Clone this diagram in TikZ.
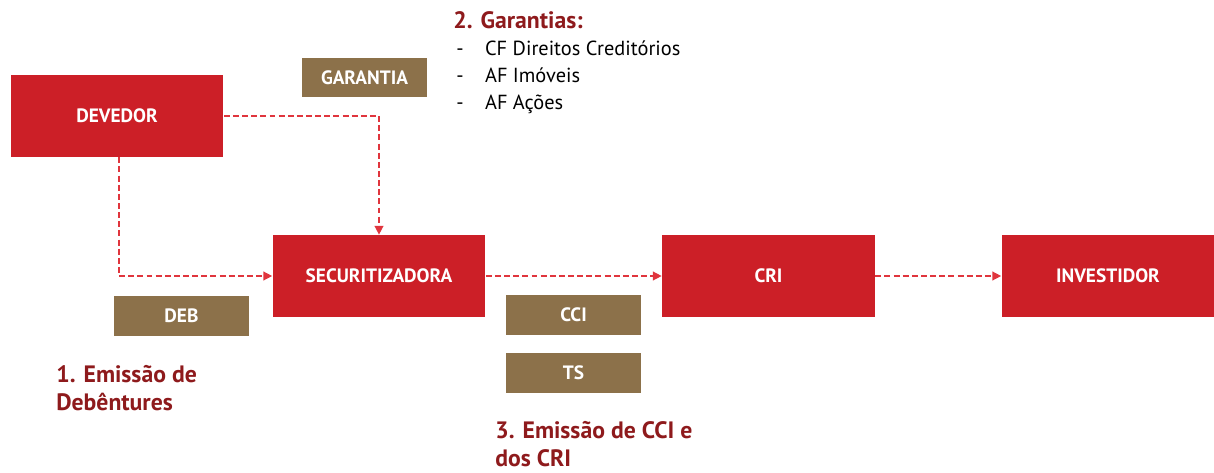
\documentclass[tikz,border=0pt]{standalone}
\usepackage{fontspec}
\setmainfont{PT Sans}
\usetikzlibrary{arrows.meta}

\definecolor{boxred}{HTML}{CC1F27}
\definecolor{boxbrown}{HTML}{8C714A}
\definecolor{titlered}{HTML}{8E1A1C}
\definecolor{linered}{HTML}{E0353D}

\tikzset{
  bigbox/.style={fill=boxred, draw=none, text=white, minimum width=4.26cm, minimum height=1.64cm,
    font=\fontsize{11}{13}\selectfont\bfseries},
  tagbox/.style={fill=boxbrown, draw=none, text=white, minimum width=2.7cm, minimum height=0.8cm,
    font=\fontsize{11}{13}\selectfont\bfseries},
  steptitle/.style={anchor=west, text=titlered, align=left, inner sep=0pt,
    font=\fontsize{13.5}{15.9}\selectfont\bfseries},
  flow/.style={linered, dashed, dash pattern=on 3.4pt off 1.8pt, line width=0.8pt,
    -{Triangle[length=5pt,width=5pt]}}
}

\begin{document}
\begin{tikzpicture}[x=0.02cm, y=-0.02cm]
        \useasboundingbox (0,0) rectangle (1214,473);

        % main boxes
        \node[bigbox] (devedor) at (117,116) {DEVEDOR};
        \node[bigbox] (secur) at (379,276) {SECURITIZADORA};
        \node[bigbox] (cri) at (768.5,276) {CRI};
        \node[bigbox] (invest) at (1108,276) {INVESTIDOR};

        % instruments
        \node[tagbox, minimum width=2.5cm, minimum height=0.78cm] (garantia) at (364.5,77.5) {GARANTIA};
        \node[tagbox] (deb) at (181.5,316) {DEB};
        \node[tagbox] (cci) at (573.5,315) {CCI};
        \node[tagbox] (ts) at (573.5,373) {TS};

        % flows
        \draw[flow] (devedor.east) -| (secur.north);
        \draw[flow] ([xshift=0.04cm]devedor.south) |- (secur.west);
        \draw[flow] (secur) -- (cri);
        \draw[flow] (cri) -- (invest);

        % steps
        \node[steptitle] (garTitle) at (453,20) {2. Garantias:};
        \node[anchor=north west, align=left, inner sep=0pt,
          font=\fontsize{11.6}{15.6}\selectfont] (garList) at (456,40)
          {-\hspace{1.05em}CF Direitos Creditórios\\-\hspace{1.05em}AF Imóveis\\-\hspace{1.05em}AF Ações};
        \node[steptitle] (emDeb) at (56,388) {1. Emissão de\\Debêntures};
        \node[steptitle] (emCri) at (495,444) {3. Emissão de CCI e\\dos CRI};

    \end{tikzpicture}
\end{document}
